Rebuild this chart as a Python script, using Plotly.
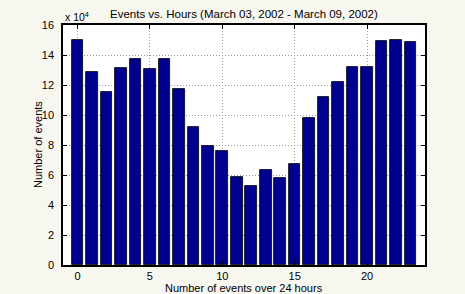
import plotly.graph_objects as go

hours = list(range(24))
events = [150000, 128400, 115500, 131400, 137100, 131000, 137600, 117200,
          91700, 79400, 76300, 58600, 52900, 63200, 58200, 67100,
          98200, 111800, 122000, 131700, 132100, 149600, 149800, 148700]
scale = 1e4
y_ticks = list(range(0, 17, 2))
x_ticks = [0, 5, 10, 15, 20]

title = "Events vs. Hours (March 03, 2002 - March 09, 2002)"
x_title = "Number of events over 24 hours"
y_title = "Number of events"

font_family = "Liberation Sans, Arial, sans-serif"

fig = go.Figure(go.Bar(
    x=hours,
    y=[v / scale for v in events],
    width=0.8,
    marker=dict(color="#00008F", line=dict(color="#000000", width=0.8)),
))

axis_common = dict(
    showline=True, linecolor="black", linewidth=1.5, mirror="ticks",
    ticks="inside", ticklen=4, tickcolor="black", tickwidth=1,
    showgrid=True, gridcolor="#999999", griddash="1px,2px", gridwidth=1,
    zeroline=False,
    tickfont=dict(family=font_family, size=11, color="black"),
)

fig.update_xaxes(range=[-1, 24], tickvals=x_ticks, **axis_common)
fig.update_yaxes(range=[0, 16], tickvals=y_ticks, ticklabelstandoff=5, **axis_common)

fig.update_layout(
    width=465, height=294,
    margin=dict(l=63, r=40, t=25, b=25),
    paper_bgcolor="#F7F7F0",
    plot_bgcolor="white",
    showlegend=False,
    bargap=0,
    font=dict(family=font_family, size=11, color="black"),
    annotations=[
        dict(text=title, x=0.5, y=1, xref="paper", yref="paper",
             xanchor="center", yanchor="bottom", yshift=3, showarrow=False,
             font=dict(size=11.5, family=font_family)),
        dict(text="x 10<sup>4</sup>", x=0, y=1, xref="paper", yref="paper",
             xanchor="left", yanchor="bottom", yshift=0, showarrow=False,
             font=dict(size=10.5, family=font_family)),
        dict(text=x_title, x=0.5, y=0, xref="paper", yref="paper",
             xanchor="center", yanchor="top", yshift=-15, showarrow=False,
             font=dict(size=11, family=font_family)),
        dict(text=y_title, x=0, y=0.5, xref="paper", yref="paper",
             xanchor="right", yanchor="middle", xshift=-17, textangle=-90,
             showarrow=False, font=dict(size=11, family=font_family)),
    ],
)

fig.write_html("out.html", config={"displayModeBar": False},
               post_script="document.body.style.margin='0px';document.body.style.overflow='hidden';")
